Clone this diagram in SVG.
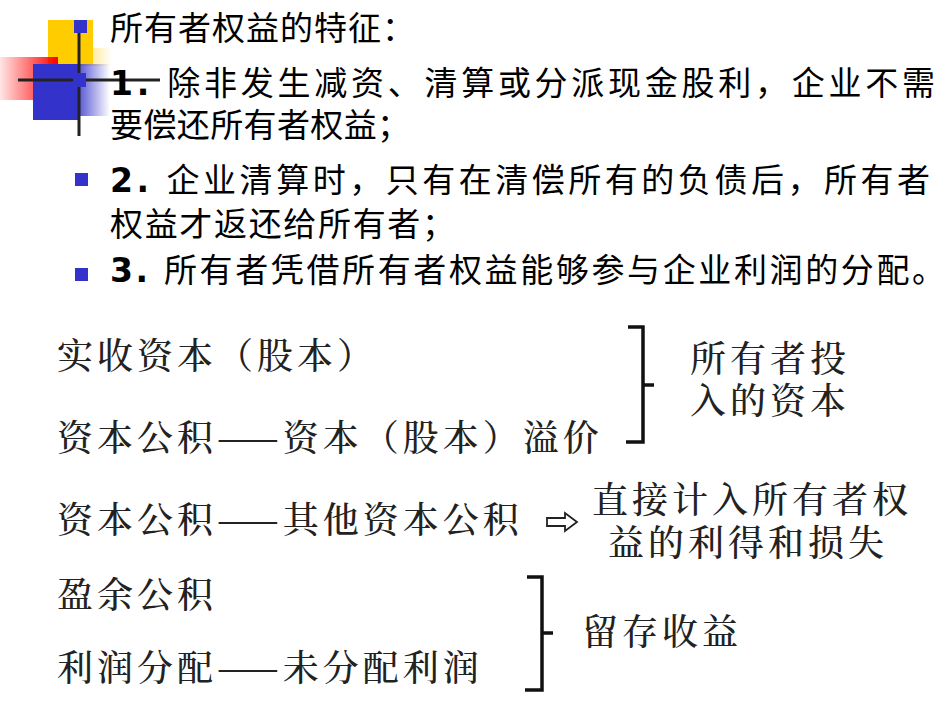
<svg xmlns="http://www.w3.org/2000/svg" width="950" height="713" viewBox="0 0 950 713">
<defs>
<linearGradient id="gr" x1="0" x2="1" y1="0" y2="0"><stop offset="0" stop-color="#ff0000" stop-opacity="0.1"/><stop offset="1" stop-color="#ff0000"/></linearGradient>
<linearGradient id="gb" x1="0" x2="1" y1="0" y2="0"><stop offset="0" stop-color="#3333cc"/><stop offset="1" stop-color="#3333cc" stop-opacity="0"/></linearGradient>
<linearGradient id="gy" x1="0" x2="1" y1="0" y2="0"><stop offset="0" stop-color="#ffcc00" stop-opacity="0.6"/><stop offset="1" stop-color="#ffcc00" stop-opacity="0"/></linearGradient>
<style>
.t{font-family:"DejaVu Sans","Noto Sans CJK SC",sans-serif;font-size:33px;fill:#000}
.b{font-weight:bold}
.s{font-family:"Noto Serif CJK SC","Noto Sans CJK SC",serif;font-size:36px;font-weight:500;letter-spacing:4px;fill:#222}
.br{fill:none;stroke:#111;stroke-width:3.5}
</style>
</defs>
<g id="deco">
<rect x="48" y="20" width="45" height="44" fill="#ffcc00"/>
<rect x="80" y="48" width="32" height="18" fill="url(#gy)"/>
<rect x="0" y="57" width="58" height="43" fill="url(#gr)"/>
<rect x="33" y="64" width="45" height="56" fill="#3333cc"/>
<rect x="72" y="64" width="38" height="52" fill="url(#gb)"/>
<line x1="79" y1="20" x2="79" y2="136" stroke="#222" stroke-width="3"/>
<line x1="18" y1="80" x2="160" y2="80" stroke="#222" stroke-width="3"/>
<rect x="74" y="20" width="13" height="13" fill="#3333cc"/>
<rect x="73" y="73" width="13" height="14" fill="#3333cc"/>
<rect x="75" y="173" width="13" height="13" fill="#3333cc"/>
<rect x="75" y="268" width="13" height="13" fill="#3333cc"/>
</g>
<g id="bullets">
<text class="t" x="110" y="40" textLength="305" lengthAdjust="spacing">所有者权益的特征：</text>
<text class="t" x="110" y="95" textLength="825" lengthAdjust="spacing"><tspan class="b">1.</tspan> 除非发生减资、清算或分派现金股利，企业不需</text>
<text class="t" x="110" y="137" textLength="300" lengthAdjust="spacing">要偿还所有者权益；</text>
<text class="t" x="110" y="192" textLength="820" lengthAdjust="spacing"><tspan class="b">2.</tspan> 企业清算时，只有在清偿所有的负债后，所有者</text>
<text class="t" x="110" y="236" textLength="345" lengthAdjust="spacing">权益才返还给所有者；</text>
<text class="t" x="110" y="282" textLength="835" lengthAdjust="spacing"><tspan class="b">3.</tspan> 所有者凭借所有者权益能够参与企业利润的分配。</text>
</g>
<g id="items">
<text class="s" x="57" y="369">实收资本（股本）</text>
<text class="s" x="57" y="451">资本公积——资本（股本）溢价</text>
<text class="s" x="57" y="533">资本公积——其他资本公积</text>
<text class="s" x="57" y="608">盈余公积</text>
<text class="s" x="57" y="681">利润分配——未分配利润</text>
</g>
<g id="labels">
<text class="s" x="690" y="372">所有者投</text>
<text class="s" x="690" y="414">入的资本</text>
<text class="s" x="592" y="513">直接计入所有者权</text>
<text class="s" x="608" y="556">益的利得和损失</text>
<text class="s" x="582" y="645">留存收益</text>
</g>
<g id="connectors">
<path class="br" d="M628 327 H643 V385 H654 M643 385 V442 H626"/>
<path class="br" d="M527 577 H542 V633 H553 M542 633 V690 H525"/>
<path d="M547 518 H565 V513 L577 522 L565 531 V526 H547 Z" fill="none" stroke="#222" stroke-width="1.8"/>
</g>
</svg>
